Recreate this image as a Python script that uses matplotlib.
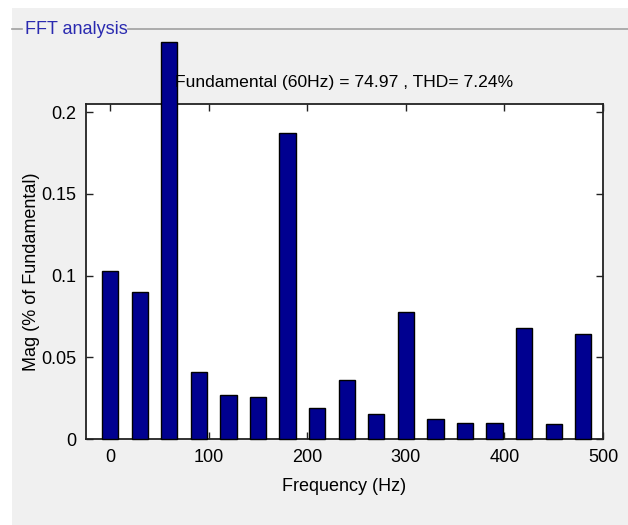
import matplotlib
matplotlib.use('Agg')
from matplotlib import pyplot as plt
from matplotlib.patches import Rectangle
from matplotlib.lines import Line2D

# harmonic spectrum, % of fundamental
freqs = [0, 30, 60, 90, 120, 150, 180, 210, 240, 270, 300, 330, 360, 390, 420, 450, 480]
mags = [0.103, 0.090, 0.243, 0.041, 0.027, 0.026, 0.187, 0.019, 0.036, 0.015,
        0.078, 0.012, 0.010, 0.010, 0.068, 0.009, 0.064]
xticks = [0, 100, 200, 300, 400, 500]
yticks = [0, 0.05, 0.1, 0.15, 0.2]
yticklabels = ['0', '0.05', '0.1', '0.15', '0.2']
title = 'Fundamental (60Hz) = 74.97 , THD= 7.24%'

plt.rcParams['font.family'] = ['Liberation Sans', 'DejaVu Sans']

W, H = 628, 525
fig = plt.figure(figsize=(W / 100, H / 100), dpi=100)
fig.patch.set_facecolor('white')

# gray panel with its titled frame line
fig.patches.append(Rectangle((12 / W, 0), 1 - 12 / W, 1 - 8 / H, transform=fig.transFigure,
                             facecolor='#f0f0f0', edgecolor='none', zorder=-5))
ly = 1 - 29 / H
fig.lines.append(Line2D([12 / W, 22 / W], [ly, ly], transform=fig.transFigure, color='#a0a0a0', lw=1.2, zorder=-4))
fig.lines.append(Line2D([128 / W, 1], [ly, ly], transform=fig.transFigure, color='#a0a0a0', lw=1.2, zorder=-4))
fig.text(25 / W, ly, 'FFT analysis', color='#2a2ab0', fontsize=13, va='center', ha='left')

ax = fig.add_axes([86 / W, 1 - 439 / H, 517 / W, 335 / H])
ax.set_facecolor('white')
ax.bar(freqs, mags, width=16.5, color='#000090', edgecolor='black', linewidth=1.0, clip_on=False, zorder=3)
ax.set_xlim(-24.5, 500)
ax.set_ylim(0, 0.205)
ax.set_xticks(xticks)
ax.set_yticks(yticks)
ax.set_yticklabels(yticklabels)
ax.tick_params(direction='in', length=5, width=1, top=True, right=True, labelsize=13, pad=7, color='#222222')
for s in ax.spines.values():
    s.set_linewidth(1.3)
    s.set_color('#222222')
ax.set_xlabel('Frequency (Hz)', fontsize=13, labelpad=9)
ax.set_ylabel('Mag (% of Fundamental)', fontsize=13, labelpad=1)
ax.set_title(title, fontsize=12.6, pad=12)

fig.savefig('out.png', dpi=100, facecolor=fig.get_facecolor())
